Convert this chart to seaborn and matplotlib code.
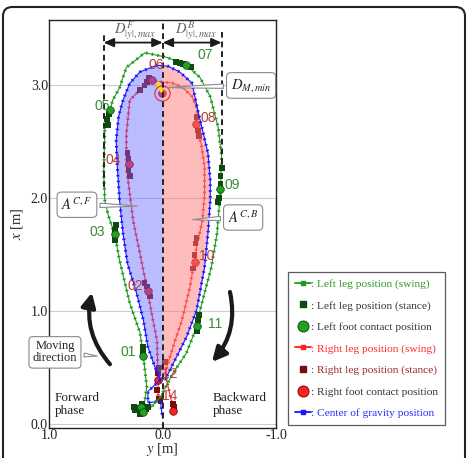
import numpy as np
import matplotlib
matplotlib.use("Agg")
import matplotlib.pyplot as plt
import seaborn as sns
from matplotlib.lines import Line2D
from matplotlib.patches import FancyBboxPatch

# left leg swing trajectory (y lateral, x forward) [m]
left_y = [0.17, 0.14, 0.17, 0.20, 0.29, 0.38, 0.42, 0.48, 0.51, 0.52, 0.51, 0.465, 0.44, 0.38, 0.32, 0.156,
          -0.035, -0.21, -0.33, -0.42, -0.49, -0.52, -0.51, -0.48, -0.43, -0.33, -0.30, -0.21, -0.09, 0.02, 0.10]
left_x = [0.12, 0.33, 0.60, 0.81, 1.07, 1.45, 1.67, 1.85, 1.98, 2.22, 2.63, 2.78, 2.87, 2.98, 3.16, 3.29,
          3.25, 3.18, 3.07, 2.90, 2.63, 2.37, 2.07, 1.69, 1.39, 1.01, 0.86, 0.63, 0.45, 0.24, 0.15]

left_stance_y = [0.48, 0.49, 0.47, 0.42, 0.41, 0.42, 0.17, 0.17, -0.15, -0.18, -0.25, -0.12,
                 -0.51, -0.51, -0.52, -0.50, -0.49, -0.31, -0.32, -0.30,
                 0.13, 0.18, 0.22, 0.25, 0.20, 0.15, 0.24]
left_stance_x = [2.65, 2.70, 2.75, 1.72, 1.76, 1.63, 0.64, 0.68, 3.20, 3.19, 3.16, 3.21,
                 2.13, 2.20, 2.27, 2.00, 1.97, 0.92, 0.97, 0.82,
                 0.15, 0.18, 0.14, 0.15, 0.09, 0.13, 0.12]

left_contact_y = [0.17, 0.42, 0.465, -0.21, -0.505, -0.30, 0.19, 0.17]
left_contact_x = [0.60, 1.68, 2.785, 3.18, 2.08, 0.87, 0.15, 0.11]

# right leg swing trajectory
right_y = [0.04, 0.04, 0.05, 0.085, 0.14, 0.20, 0.26, 0.29, 0.32, 0.32, 0.29, 0.20, 0.10, 0.0,
           -0.09, -0.18, -0.26, -0.31, -0.29, -0.34, -0.37, -0.37, -0.35, -0.30, -0.24, -0.17,
           -0.11, -0.05, -0.02, -0.09]
right_x = [0.20, 0.39, 0.74, 0.92, 1.21, 1.51, 1.80, 2.04, 2.28, 2.57, 2.87, 2.96, 3.04, 3.03,
           3.02, 2.98, 2.90, 2.78, 2.66, 2.48, 2.28, 2.04, 1.80, 1.57, 1.21, 0.92,
           0.74, 0.55, 0.45, 0.15]

right_stance_y = [0.30, 0.31, 0.30, 0.29, 0.14, 0.16, 0.11, 0.12, 0.16, 0.20, 0.14,
                  -0.30, -0.31, -0.32, -0.28, -0.29, -0.27, -0.30,
                  0.04, 0.03, -0.02, 0.05, -0.09, -0.10, 0.02, 0.03]
right_stance_x = [2.35, 2.40, 2.25, 2.20, 1.22, 1.25, 1.13, 3.07, 3.00, 2.96, 3.03,
                  2.72, 2.60, 2.55, 1.50, 1.60, 1.38, 1.65,
                  0.45, 0.50, 0.55, 0.30, 0.18, 0.15, 0.20, 0.22]

right_contact_y = [0.127, 0.30, 0.097, -0.29, -0.285, 0.04, -0.09, 0.01]
right_contact_x = [1.18, 2.30, 3.05, 2.66, 1.44, 0.39, 0.12, 2.93]

# center of gravity: forward half (bottom -> top), backward half (top -> bottom)
cog_fwd_y = [0.02, 0.07, 0.13, 0.17, 0.23, 0.31, 0.35, 0.38, 0.40, 0.41, 0.39, 0.35, 0.29, 0.20, 0.05]
cog_fwd_x = [0.39, 0.51, 0.68, 0.92, 1.16, 1.42, 1.69, 1.98, 2.28, 2.51, 2.72, 2.87, 3.02, 3.12, 3.18]
cog_bwd_y = [-0.05, -0.15, -0.26, -0.31, -0.36, -0.40, -0.42, -0.42, -0.40, -0.37, -0.30, -0.21, -0.11, -0.02]
cog_bwd_x = [3.17, 3.12, 3.02, 2.78, 2.57, 2.40, 2.16, 1.98, 1.69, 1.39, 1.01, 0.77, 0.57, 0.39]
cog_end_y = [0.13, 0.13, 0.02, 0.0]
cog_end_x = [0.29, 0.19, 0.20, 0.05]

left_labels = ["01", "03", "05", "07", "09", "11"]
left_label_pos = [(0.306, 0.64), (0.58, 1.70), (0.535, 2.82), (-0.373, 3.27), (-0.61, 2.12), (-0.46, 0.89)]
right_labels = ["02", "04", "06", "08", "10", "12", "14"]
right_label_pos = [(0.244, 1.22), (0.436, 2.34), (0.053, 3.18), (-0.40, 2.71), (-0.39, 1.49),
                   (-0.065, 0.44), (-0.065, 0.25)]

D_max_fwd = 0.52
D_max_bwd = -0.52

GREEN = "#1f9a1f"
DKGREEN = "#0f4a0f"
RED = "#ff2020"
DKRED = "#7a0c0c"
BLUE = "#1515ff"

sns.set_theme(style="white")
plt.rcParams["font.family"] = ["Liberation Serif", "DejaVu Serif"]
plt.rcParams["mathtext.fontset"] = "stix"

fig = plt.figure(figsize=(4.69, 4.58), dpi=100)
ax = fig.add_axes([49.3 / 469, 1 - 428 / 458, (276 - 49.3) / 469, (428 - 20) / 458])


def dotted_path(yv, xv, color, z):
    sns.lineplot(x=yv, y=xv, sort=False, estimator=None, color=color, lw=0.8, ax=ax, zorder=z)
    ax.plot(yv, xv, color=color, lw=2.2, linestyle=(0, (0.5, 1.4)), zorder=z)


# right leg (under the fills so it looks purple on the blue side)
dotted_path(right_y, right_x, RED, 2)
sns.scatterplot(x=right_stance_y, y=right_stance_x, marker="s", s=16, color=DKRED, edgecolor="none", ax=ax, zorder=2.2)
sns.scatterplot(x=right_contact_y, y=right_contact_x, marker="o", s=30, color=RED, edgecolor="#600000",
                linewidth=0.5, ax=ax, zorder=2.3)

# stability areas
top_f = cog_fwd_x[-1]
ax.fill(cog_fwd_y + [0, 0], cog_fwd_x + [top_f, cog_fwd_x[0]], color="#6a6aff", alpha=0.45, lw=0, zorder=3)
ax.fill(cog_bwd_y + [0, 0], cog_bwd_x + [cog_bwd_x[-1], cog_bwd_x[0]], color="#ff7a7a", alpha=0.5, lw=0, zorder=3)

# center of gravity
dotted_path(cog_fwd_y + cog_bwd_y, cog_fwd_x + cog_bwd_x, BLUE, 4)
dotted_path(cog_fwd_y[:1] + cog_end_y, cog_fwd_x[:1] + cog_end_x, BLUE, 4)

# left leg
dotted_path(left_y, left_x, GREEN, 5)
sns.scatterplot(x=left_stance_y, y=left_stance_x, marker="s", s=18, color=DKGREEN, edgecolor="none", ax=ax, zorder=5.2)
sns.scatterplot(x=left_contact_y, y=left_contact_x, marker="o", s=30, color="#21a021", edgecolor="#0a400a",
                linewidth=0.5, ax=ax, zorder=5.3)

# minimum distance marker
ax.plot([0.04, 0.01], [3.02, 2.95], color="#ffe000", lw=2.5, zorder=6)
ax.plot([0.01], [2.93], marker="o", ms=11, mfc="none", mec=RED, mew=0.8, zorder=6)

# center line and max-distance markers
ax.axvline(0, color="#222222", lw=1.4, linestyle=(0, (3, 2)), zorder=7)
for d, lo in [(D_max_fwd, 2.1), (D_max_bwd, 2.3)]:
    ax.plot([d, d], [lo, 3.47], color="#222222", lw=1.4, linestyle=(0, (3, 2)), zorder=7)
    ax.annotate("", xy=(d, 3.38), xytext=(0, 3.38),
                arrowprops=dict(arrowstyle="<|-|>,head_width=0.22,head_length=0.5", color="k", lw=1.3,
                                shrinkA=0, shrinkB=0), zorder=7)
ax.text(0.245, 3.49, r"$D^{F}_{|y|,max}$", color="#666666", fontsize=10.5, ha="center", va="center")
ax.text(-0.30, 3.49, r"$D^{B}_{|y|,max}$", color="#666666", fontsize=10.5, ha="center", va="center")

for lab, (yy, xx) in zip(left_labels, left_label_pos):
    ax.text(yy, xx, lab, color="#3a8a3a", fontsize=10, family="Liberation Sans", ha="center", va="center", zorder=8)
for lab, (yy, xx) in zip(right_labels, right_label_pos):
    ax.text(yy, xx, lab, color="#b8403c", fontsize=10, family="Liberation Sans", ha="center", va="center", zorder=8)

# callouts
box = dict(boxstyle="round,pad=0.3", fc="white", ec="#8a8a8a", lw=0.8)
wedge = dict(arrowstyle="wedge,tail_width=0.3,shrink_factor=0.5", fc="white", ec="#8a8a8a", lw=0.8)
ax.annotate(r"$D_{M,min}$", xy=(0.0, 2.98), xytext=(-0.78, 3.0), fontsize=10.5, ha="center", va="center",
            bbox=box, arrowprops=wedge, zorder=9)
ax.annotate(r"$A^{C,F}$", xy=(0.2, 1.93), xytext=(0.756, 1.943), fontsize=10.5, ha="center", va="center",
            bbox=box, arrowprops=wedge, zorder=9)
ax.annotate(r"$A^{C,B}$", xy=(-0.24, 1.81), xytext=(-0.71, 1.83), fontsize=10.5, ha="center", va="center",
            bbox=box, arrowprops=wedge, zorder=9)
ax.annotate("Moving\ndirection", xy=(0.553, 0.60), xytext=(0.95, 0.635), fontsize=9, ha="center", va="center",
            linespacing=1.0, bbox=box, arrowprops=wedge, zorder=9)

# motion arrows
ax.annotate("", xy=(0.624, 1.165), xytext=(0.465, 0.53),
            arrowprops=dict(arrowstyle="-|>,head_width=0.35,head_length=0.7", color="k", lw=3,
                            connectionstyle="arc3,rad=-0.25", shrinkA=0, shrinkB=0), zorder=9)
ax.annotate("", xy=(-0.435, 0.55), xytext=(-0.594, 1.17),
            arrowprops=dict(arrowstyle="-|>,head_width=0.35,head_length=0.7", color="k", lw=3,
                            connectionstyle="arc3,rad=-0.25", shrinkA=0, shrinkB=0), zorder=9)

ax.text(0.95, 0.17, "Forward\nphase", fontsize=9.5, ha="left", va="center", linespacing=1.1, color="#222222")
ax.text(-0.444, 0.17, "Backward\nphase", fontsize=9.5, ha="left", va="center", linespacing=1.1, color="#222222")

ax.set_xlim(1.0, -1.0)
ax.set_ylim(-0.035, 3.58)
ax.set_xticks([1.0, 0.0, -1.0])
ax.set_xticklabels(["1.0", "0.0", "-1.0"])
ax.set_yticks([0.0, 1.0, 2.0, 3.0])
ax.set_yticklabels(["0.0", "1.0", "2.0", "3.0"])
ax.tick_params(length=0, labelsize=10, pad=1, colors="#222222")
ax.yaxis.grid(True, color="#cccccc", lw=0.8)
ax.set_axisbelow(True)
for s in ax.spines.values():
    s.set_color("#222222")
    s.set_linewidth(1.0)
ax.set_xlabel(r"$y$ [m]", fontsize=10.5, labelpad=-1)
ax.set_ylabel(r"$x$ [m]", fontsize=10.5, labelpad=4)

handles = [
    Line2D([0], [0], color=GREEN, lw=1.3, marker="s", ms=3),
    Line2D([0], [0], color=DKGREEN, lw=0, marker="s", ms=4.5),
    Line2D([0], [0], color="#21a021", lw=0, marker="o", ms=8, mec="#0a400a", mew=0.6),
    Line2D([0], [0], color=RED, lw=1.3, marker="s", ms=3),
    Line2D([0], [0], color=DKRED, lw=0, marker="s", ms=4.5),
    Line2D([0], [0], color=RED, lw=0, marker="o", ms=8, mec="#600000", mew=0.6),
    Line2D([0], [0], color=BLUE, lw=1.3, marker="s", ms=3),
]
labels = [": Left leg position (swing)", ": Left leg position (stance)", ": Left foot contact position",
          ": Right leg position (swing)", ": Right leg position (stance)", ": Right foot contact position",
          ": Center of gravity position"]
leg = fig.legend(handles, labels, loc="upper left", bbox_to_anchor=(288 / 469, 1 - 272 / 458),
                 fontsize=8.2, frameon=True, fancybox=False, edgecolor="#333333", handlelength=1.4,
                 handletextpad=0.0, labelspacing=1.0, borderpad=0.6, borderaxespad=0,
                 labelcolor=["#2a9a2a", "#2d3a2d", "#333333", "#ff2a2a", "#9a2a2a", "#333333", "#2a2aff"])
leg.get_frame().set_linewidth(0.9)

fig.patches.append(FancyBboxPatch((3 / 469, -0.05), 462 / 469, 1 - 7 / 458 + 0.05,
                                  boxstyle="round,pad=0,rounding_size=0.02", transform=fig.transFigure,
                                  fill=False, ec="#222222", lw=1.5))

fig.savefig("out.png", dpi=100)
